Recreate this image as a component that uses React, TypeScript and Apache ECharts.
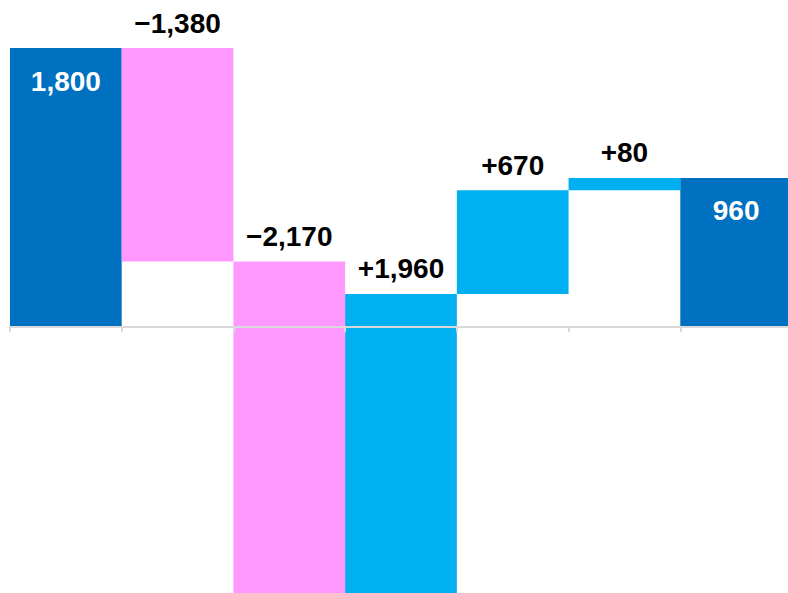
import React, { useEffect, useRef } from "react";
import * as echarts from "echarts";

const categories = ["Start", "Step 1", "Step 2", "Step 3", "Step 4", "Step 5", "End"];
const changes = [1800, -1380, -2170, 1960, 670, 80, 960];
const kinds = ["total", "delta", "delta", "delta", "delta", "delta", "total"];

const COLOR_TOTAL = "#0070C0";
const COLOR_UP = "#00B0F0";
const COLOR_DOWN = "#FF99FF";

function fmt(v: number, kind: string): string {
  const s = Math.abs(v).toLocaleString("en-US");
  if (kind === "total") return (v < 0 ? "\u2212" : "") + s;
  return (v < 0 ? "\u2212" : "+") + s;
}

export default function App() {
  const ref = useRef<HTMLDivElement>(null);
  useEffect(() => {
    if (!ref.current) return;
    const chart = echarts.init(ref.current, null, { renderer: "svg" });
    let cum = 0;
    const data = changes.map((v, i) => {
      let low: number, high: number;
      if (kinds[i] === "total") {
        cum = v;
        low = Math.min(0, v);
        high = Math.max(0, v);
      } else {
        const next = cum + v;
        low = Math.min(cum, next);
        high = Math.max(cum, next);
        cum = next;
      }
      return [i, low, high, v];
    });
    chart.setOption({
      animation: false,
      grid: { left: 10, right: 0, top: 48, bottom: 0 },
      xAxis: {
        type: "category",
        data: categories,
        boundaryGap: true,
        z: 10,
        axisLine: { show: true, onZero: true, lineStyle: { color: "#D9D9D9", width: 2 } },
        axisTick: { show: true, length: 6, lineStyle: { color: "#D9D9D9", width: 2 } },
        axisLabel: { show: false },
        splitLine: { show: false },
      },
      yAxis: {
        type: "value",
        min: -1750,
        max: 1800,
        show: false,
        splitLine: { show: false },
      },
      series: [
        {
          type: "custom",
          data,
          encode: { x: 0, y: [1, 2] },
          renderItem: (params: any, api: any) => {
            const i = api.value(0);
            const low = api.value(1);
            const high = api.value(2);
            const v = api.value(3);
            const kind = kinds[i];
            const pTop = api.coord([i, high]);
            const pBot = api.coord([i, low]);
            const w = api.size([1, 0])[0];
            const color = kind === "total" ? COLOR_TOTAL : v >= 0 ? COLOR_UP : COLOR_DOWN;
            const isTotal = kind === "total";
            return {
              type: "group",
              children: [
                {
                  type: "rect",
                  shape: { x: pTop[0] - w / 2, y: pTop[1], width: w, height: pBot[1] - pTop[1] },
                  style: { fill: color },
                },
                {
                  type: "text",
                  x: pTop[0],
                  y: isTotal ? pTop[1] + 33 : pTop[1] - 25,
                  style: {
                    text: fmt(v, kind),
                    fill: isTotal ? "#FFFFFF" : "#000000",
                    font: "bold 28px 'Liberation Sans', Arial, sans-serif",
                    align: "center",
                    verticalAlign: "middle",
                  },
                },
              ],
            };
          },
        },
      ],
    });
    return () => chart.dispose();
  }, []);
  return (
    <div
      style={{
        position: "absolute",
        left: 0,
        top: 0,
        width: 788,
        height: 593,
        overflow: "hidden",
      }}
    >
      <div ref={ref} style={{ width: 792, height: 597 }} />
    </div>
  );
}
